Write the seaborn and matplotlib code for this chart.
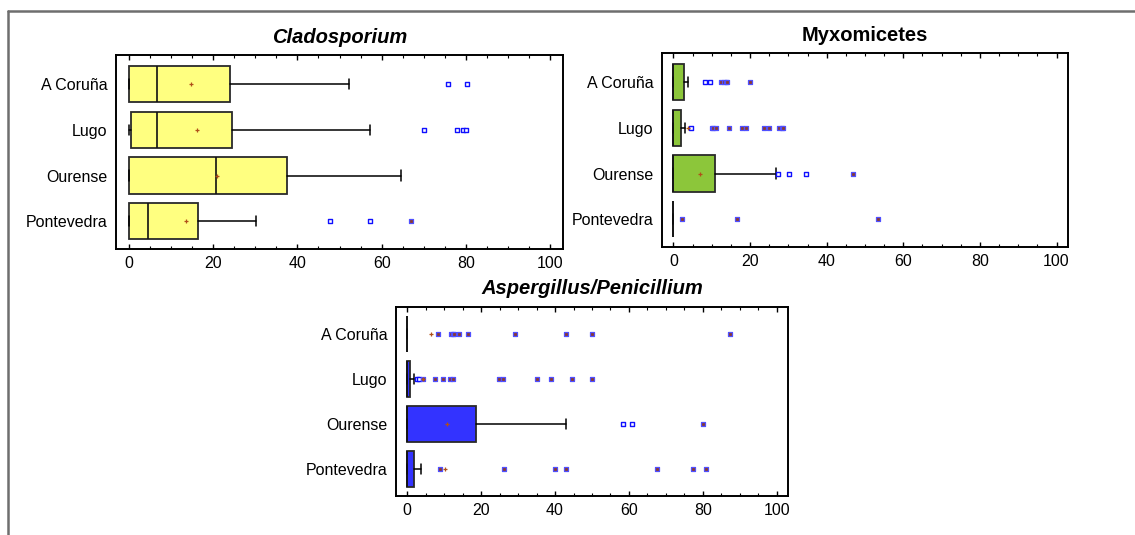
import numpy as np
import pandas as pd
import matplotlib
matplotlib.use("Agg")
import matplotlib.pyplot as plt
from matplotlib.lines import Line2D
from matplotlib.ticker import MultipleLocator
import seaborn as sns

regions = ["A Coruña", "Lugo", "Ourense", "Pontevedra"]

# Cladosporium
clado_q1 = [0.0, 0.5, 0.0, 0.0]
clado_med = [6.8, 6.8, 20.6, 4.5]
clado_q3 = [24.0, 24.4, 37.5, 16.4]
clado_whislo = [0.0, 0.0, 0.0, 0.0]
clado_whishi = [52.2, 57.2, 64.5, 30.2]
clado_mean = [14.8, 16.3, 20.9, 13.5]
clado_out = [[75.7, 80.2], [70.1, 77.9, 79.4, 80.1], [], [47.7, 57.2]]
clado_far = [[], [], [], [66.9]]

# Myxomicetes
myxo_q1 = [0.0, 0.0, 0.0, 0.0]
myxo_med = [0.0, 0.0, 0.0, 0.0]
myxo_q3 = [2.8, 1.9, 10.9, 0.0]
myxo_whislo = [0.0, 0.0, 0.0, 0.0]
myxo_whishi = [3.9, 3.1, 26.8, 0.0]
myxo_mean = [np.nan, 3.7, 6.9, np.nan]
myxo_out = [[8.3, 9.6], [4.7], [27.2, 30.1, 34.6], []]
myxo_far = [[12.5, 13.2, 13.6, 14.1, 20.0],
            [10.0, 10.4, 11.0, 14.4, 17.8, 18.9, 23.6, 25.0, 27.6, 28.2, 28.6],
            [46.8],
            [2.1, 16.7, 53.4]]

# Aspergillus/Penicillium
asp_q1 = [0.0, 0.0, 0.0, 0.0]
asp_med = [0.0, 0.0, 0.0, 0.0]
asp_q3 = [0.0, 0.8, 18.75, 2.0]
asp_whislo = [0.0, 0.0, 0.0, 0.0]
asp_whishi = [0.0, 1.9, 42.9, 3.65]
asp_mean = [6.4, 4.2, 10.9, 10.3]
asp_out = [[], [2.8, 3.2], [58.4, 60.8], []]
asp_far = [[8.4, 11.9, 12.3, 12.7, 14.0, 16.6, 29.1, 42.9, 50.1, 87.4],
           [4.2, 7.5, 9.6, 11.6, 12.4, 24.9, 25.9, 35.1, 38.8, 44.5, 50.1],
           [79.9],
           [9.0, 26.3, 39.9, 42.9, 67.5, 77.3, 80.8]]

x_ticks = [0, 20, 40, 60, 80, 100]

sns.set_style("white")
plt.rcParams["font.family"] = ["Liberation Sans", "DejaVu Sans"]
plt.rcParams["text.color"] = "black"
plt.rcParams["xtick.color"] = "black"
plt.rcParams["ytick.color"] = "black"
plt.rcParams["axes.labelcolor"] = "black"

fig = plt.figure(figsize=(11.35, 5.35), dpi=100)
W, H = 1135, 535


def px_axes(left, top, right, bottom):
    return fig.add_axes([left / W, 1 - bottom / H, (right - left) / W, (bottom - top) / H])


def panel(ax, title, italic, color, q1, med, q3, wlo, whi, mean, out, far, ylim, pad):
    stats = []
    for i in range(len(regions)):
        stats.append(dict(med=med[i], q1=q1[i], q3=q3[i], whislo=wlo[i], whishi=whi[i],
                          fliers=[], label=regions[i]))
    ax.bxp(stats, positions=list(range(len(regions))), widths=0.8,
           orientation="horizontal", patch_artist=True, showfliers=False,
           capwidths=0.22,
           boxprops=dict(facecolor=color, edgecolor="#2a2a2a", linewidth=1.3),
           medianprops=dict(color="#111111", linewidth=1.2),
           whiskerprops=dict(color="black", linewidth=1.1),
           capprops=dict(color="black", linewidth=1.1))
    rows = []
    for i in range(len(regions)):
        for v in out[i]:
            rows.append(dict(value=v, pos=i, kind="out"))
        for v in far[i]:
            rows.append(dict(value=v, pos=i, kind="far"))
    df = pd.DataFrame(rows, columns=["value", "pos", "kind"])
    d_out = df[df.kind == "out"]
    d_far = df[df.kind == "far"]
    if len(d_out):
        sns.scatterplot(data=d_out, x="value", y="pos", ax=ax, marker="s", s=9,
                        facecolor="white", edgecolor="#1010ff", linewidth=1.0, zorder=5)
    if len(d_far):
        sns.scatterplot(data=d_far, x="value", y="pos", ax=ax, marker="s", s=9,
                        facecolor="#8a3a30", edgecolor="#5050ff", linewidth=0.9, zorder=5)
    dm = pd.DataFrame(dict(value=mean, pos=list(range(len(regions))))).dropna()
    sns.scatterplot(data=dm, x="value", y="pos", ax=ax, marker="+", s=9,
                    color="#b0501a", linewidth=0.9, zorder=6)
    ax.set_xlim(-3, 103)
    ax.set_ylim(*ylim)
    ax.set_yticks(list(range(len(regions))))
    ax.set_yticklabels(regions)
    ax.set_xticks(x_ticks)
    ax.set_xticklabels([str(t) for t in x_ticks])
    ax.xaxis.set_minor_locator(MultipleLocator(5))
    ax.set_xlabel("")
    ax.set_ylabel("")
    ax.tick_params(axis="x", which="both", direction="in", top=True, bottom=True,
                   labelsize=11.5, pad=5, color="black", labelcolor="black")
    ax.tick_params(axis="x", which="major", length=3.5, width=1.0)
    ax.tick_params(axis="x", which="minor", length=2.5, width=0.8)
    ax.tick_params(axis="y", length=0, labelsize=11.5, pad=6, labelcolor="black")
    for s in ax.spines.values():
        s.set_visible(True)
        s.set_color("black")
        s.set_linewidth(1.4)
    ax.set_title(title, fontsize=14.5, fontweight="bold", color="black",
                 fontstyle="italic" if italic else "normal", pad=pad)


ax1 = px_axes(116, 55, 563, 249)
panel(ax1, "Cladosporium", True, "#ffff80", clado_q1, clado_med, clado_q3,
      clado_whislo, clado_whishi, clado_mean, clado_out, clado_far, (3.61, -0.64), 8.4)

ax2 = px_axes(662, 53, 1068, 247)
panel(ax2, "Myxomicetes", False, "#8cc63a", myxo_q1, myxo_med, myxo_q3,
      myxo_whislo, myxo_whishi, myxo_mean, myxo_out, myxo_far, (3.61, -0.64), 8.8)

ax3 = px_axes(396, 307, 788, 496)
panel(ax3, "Aspergillus/Penicillium", True, "#3333ff", asp_q1, asp_med, asp_q3,
      asp_whislo, asp_whishi, asp_mean, asp_out, asp_far, (3.61, -0.61), 9.6)

# outer frame (top and left edges)
fig.add_artist(Line2D([8 / W, 1.0], [1 - 10.5 / H, 1 - 10.5 / H], color="#6e6e6e", linewidth=1.8))
fig.add_artist(Line2D([8 / W, 8 / W], [0.0, 1 - 10.5 / H], color="#6e6e6e", linewidth=1.8))

fig.savefig("out.png", dpi=100)
